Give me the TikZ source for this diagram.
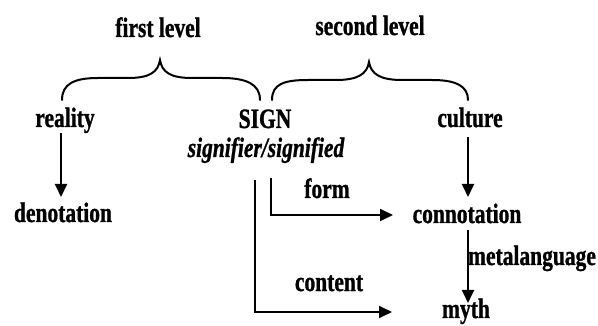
\documentclass[tikz,border=0pt]{standalone}
\usepackage{fontspec}
\setmainfont{Liberation Serif}[BoldFeatures={FakeBold=1.2},BoldItalicFeatures={FakeBold=1.2}]
\usetikzlibrary{arrows.meta}
\tikzset{
  lbl/.style={font=\fontsize{21.5}{24}\selectfont\bfseries, yscale=1.3, inner sep=0pt, anchor=base},
  ilbl/.style={lbl, font=\fontsize{21.5}{24}\selectfont\bfseries\itshape},
  arr/.style={line width=1.8pt, -{Triangle[length=13pt,width=12pt]}},
  brace/.style={line width=2pt, line cap=round},
}
\begin{document}
\begin{tikzpicture}[x=1pt,y=-1pt]
\useasboundingbox (0,0) rectangle (598,326);
% labels
\node[lbl] (first) at (158,37) {first level};
\node[lbl] (second) at (370,35) {second level};
\node[lbl] (reality) at (65,127) {reality};
\node[lbl] (sign) at (265,128) {SIGN};
\node[lbl] (culture) at (470,127) {culture};
\node[ilbl] (sig) at (266,157) {signifier/signified};
\node[lbl] (deno) at (63,222) {denotation};
\node[lbl] (conn) at (467,223) {connotation};
\node[lbl] (form) at (327,198) {form};
\node[lbl] (content) at (329,291) {content};
\node[lbl] (meta) at (532,265) {metalanguage};
\node[lbl] (myth) at (466,318) {myth};
% braces
\draw[brace] (62,100) .. controls (62,84) and (74,78) .. (98,78) -- (128,78)
  .. controls (150,78) and (158,72) .. (160,60)
  .. controls (162,72) and (170,78) .. (192,78) -- (222,78)
  .. controls (246,78) and (260,84) .. (260,100);
\draw[brace] (272,100) .. controls (272,84) and (284,80) .. (308,80) -- (336,80)
  .. controls (358,80) and (367,74) .. (369,62)
  .. controls (371,74) and (380,80) .. (402,80) -- (432,80)
  .. controls (456,80) and (468,86) .. (468,100);
% coordinates
\coordinate (fstart) at (271,178);
\coordinate (fend) at (393,215);
\coordinate (cstart) at (255,180);
\coordinate (cend) at (392,312);
\coordinate (rtop) at (61,133);
\coordinate (rbot) at (61,197);
\coordinate (ctop) at (468,137);
\coordinate (cbot) at (468,197);
\coordinate (mtop) at (468,230);
\coordinate (mbot) at (468,303);
% connectors
\draw[arr] (rtop) -- (rbot);
\draw[arr] (ctop) -- (cbot);
\draw[arr] (mtop) -- (mbot);
\draw[arr] (fstart) |- (fend);
\draw[arr] (cstart) |- (cend);
\end{tikzpicture}
\end{document}
